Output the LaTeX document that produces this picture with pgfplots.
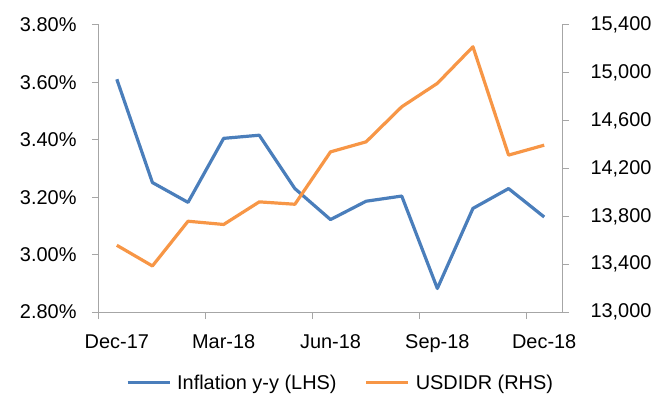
\documentclass[border=0pt]{standalone}
\usepackage{fontspec}
\setmainfont{Liberation Sans}
\usepackage{pgfplots}
\pgfplotsset{compat=1.18}
\definecolor{infblue}{HTML}{4A7EBB}
\definecolor{usdor}{HTML}{F79646}
\definecolor{axgray}{HTML}{A6A6A6}
\begin{document}
\begin{tikzpicture}
\useasboundingbox (-99bp,-93bp) rectangle (573bp,312bp);
\pgfplotsset{
  every axis/.append style={
    scale only axis, width=463bp, height=287bp,
    xmin=-0.5, xmax=12.5,
    tick label style={font=\fontsize{20}{23}\selectfont},
    /pgf/number format/assume math mode=true,
    axis line style={axgray, line width=1bp},
    every tick/.style={axgray, line width=1bp},
    tick align=outside,
    major tick length=7bp,
    minor tick length=7bp,
    clip=false,
  }
}
\begin{axis}[name=ax, axis x line*=bottom, axis y line*=left,
  ymin=2.8, ymax=3.8, ytick={2.8,3.0,3.2,3.4,3.6,3.8},
  yticklabel={\pgfmathprintnumber[fixed,fixed zerofill,precision=2]{\tick}\%},
  yticklabel style={xshift=-12bp},
  xtick={0,3,6,9,12}, xticklabels={Dec-17,Mar-18,Jun-18,Sep-18,Dec-18},
  every major x tick/.append style={draw=none},
  minor xtick={-0.5,2.5,5.5,8.5,11.5},
  xticklabel style={yshift=-12bp},
  ]
\addplot[infblue, line width=3.2bp, line join=round] coordinates {
(0,3.611) (1,3.251) (2,3.182) (3,3.405) (4,3.416) (5,3.230) (6,3.122)
(7,3.186) (8,3.204) (9,2.882) (10,3.161) (11,3.230) (12,3.131)};
\end{axis}
\begin{axis}[axis x line=none, axis y line*=right,
  ymin=13000, ymax=15400, ytick={13000,13400,13800,14200,14600,15000,15400},
  scaled y ticks=false,
  yticklabel style={xshift=18bp, /pgf/number format/1000 sep={,}},
  legend style={at={(0.5216,-0.247)}, anchor=center, draw=none, fill=none,
    font=\fontsize{20}{23}\selectfont, inner sep=0pt,
    /tikz/every odd column/.append style={column sep=4bp},
    /tikz/every even column/.append style={column sep=26bp}},
  legend columns=2,
  legend image code/.code={\draw[#1] (0bp,0bp) -- (42bp,0bp);},
  ]
\addlegendimage{infblue, line width=3.2bp}
\addlegendentry{Inflation y-y (LHS)}
\addplot[usdor, line width=3.2bp, line join=round] coordinates {
(0,13558) (1,13385) (2,13759) (3,13732) (4,13921) (5,13901) (6,14339)
(7,14423) (8,14716) (9,14912) (10,15218) (11,14312) (12,14395)};
\addlegendentry{USDIDR (RHS)}
\end{axis}
\end{tikzpicture}
\end{document}
